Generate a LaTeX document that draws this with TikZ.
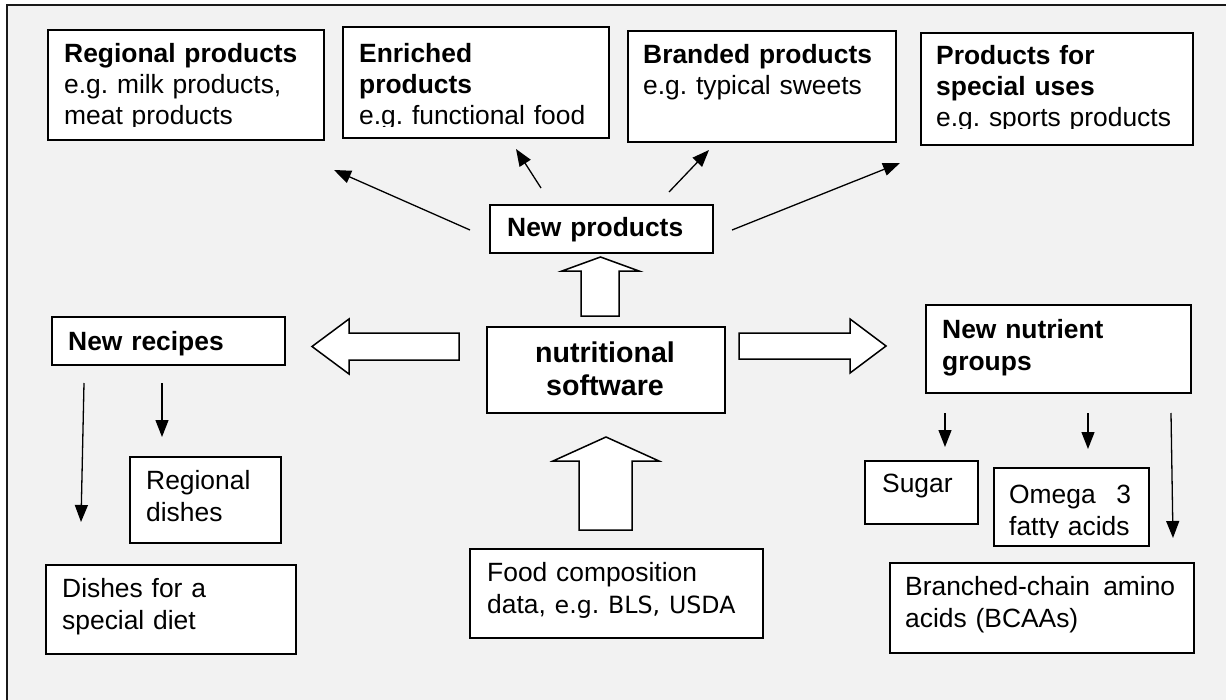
\documentclass[tikz,border=0pt]{standalone}
\usepackage{fontspec}
\setmainfont{Liberation Sans}
\newfontfamily\dvsans{DejaVu Sans}
\usetikzlibrary{arrows.meta}
\definecolor{bgcol}{HTML}{F2F2F2}
\frenchspacing
\begin{document}
\frenchspacing
\begin{tikzpicture}[x=1bp,y=-1bp,
  box/.style={draw=black, fill=white, line width=1.6bp, inner sep=0pt, anchor=north west},
  txt/.style={inner sep=0pt, anchor=base west, align=left, text width=#1,
              font=\frenchspacing\fontsize{26.4bp}{31bp}\selectfont},
  txtb/.style={inner sep=0pt, anchor=base west, align=left, text width=#1,
              font=\frenchspacing\fontsize{26.4bp}{32.5bp}\selectfont},
  ctxt/.style={inner sep=0pt, anchor=base, align=center, text width=#1,
              font=\frenchspacing\fontsize{28.6bp}{33.5bp}\selectfont},
  conn/.style={line width=1.3bp, -{Triangle[length=17bp,width=13bp]}},
  harrow/.style={draw=black, fill=white, line width=1.5bp, line join=miter}
]
\useasboundingbox (0,0) rectangle (1226,700);
% background and frame
\fill[white] (0,0) rectangle (1226,700);
\fill[bgcol] (7,5) rectangle (1226,700);
\draw[line width=2bp, color=black!90] (7,700) -- (7,5) -- (1226,5);

% boxes
\node[box, minimum width=276bp, minimum height=110bp] (reg) at (47,29) {};
\node[box, minimum width=266bp, minimum height=111bp] (enr) at (342,26) {};
\node[box, minimum width=268bp, minimum height=111bp] (brd) at (627,30) {};
\node[box, minimum width=272bp, minimum height=112bp] (spc) at (920,32) {};
\node[box, minimum width=223bp, minimum height=48bp] (np) at (489,204) {};
\node[box, minimum width=238bp, minimum height=86bp] (sw) at (486,326) {};
\node[box, minimum width=233bp, minimum height=48bp] (nr) at (51,316) {};
\node[box, minimum width=265bp, minimum height=88bp] (nng) at (925,304) {};
\node[box, minimum width=113bp, minimum height=63bp] (sug) at (864,460) {};
\node[box, minimum width=155bp, minimum height=78bp] (om) at (993,467) {};
\node[box, minimum width=304bp, minimum height=90bp] (bca) at (889,562) {};
\node[box, minimum width=151bp, minimum height=86bp] (rd) at (129,456) {};
\node[box, minimum width=250bp, minimum height=89bp] (dsd) at (45,564) {};
\node[box, minimum width=293bp, minimum height=89bp] (fcd) at (469,548) {};

% texts
\begin{scope}
\clip (47,29) rectangle (323,127);
\node[txt=255bp] (regt) at (64,63) {{\bfseries Regional products}\\e.g. milk products,\\meat products};
\end{scope}
\begin{scope}
\clip (342,26) rectangle (608,127);
\node[txt=245bp] (enrt) at (359,63) {{\bfseries Enriched}\\{\bfseries products}\\e.g. functional food};
\end{scope}
\node[txt=248bp] (brdt) at (643,64) {{\bfseries Branded products}\\e.g. typical sweets};
\begin{scope}
\clip (920,32) rectangle (1192,129);
\node[txt=252bp] (spct) at (936,65) {{\bfseries Products for}\\{\bfseries special uses}\\e.g. sports products};
\end{scope}
\node[txt=200bp] (npt) at (507,237) {\bfseries New products};
\node[ctxt=230bp] (swt) at (605,362) {{\bfseries nutritional}\\{\bfseries software}};
\node[txt=210bp] (nrt) at (68,350) {\bfseries New recipes};
\node[txtb=240bp] (nngt) at (942,338) {{\bfseries New nutrient}\\{\bfseries groups}};
\node[txt=90bp] (sugt) at (882,492) {Sugar};
\begin{scope}
\clip (993,467) rectangle (1148,537);
\node[txtb=122bp] (omt) at (1009,503) {Omega\hfill 3\\fatty acids};
\end{scope}
\node[txtb=270bp] (bcat) at (905,595) {Branched-chain\hfill amino\\acids (BCAAs)};
\node[txtb=130bp] (rdt) at (146,489) {Regional\\dishes};
\node[txtb=225bp] (dsdt) at (62,597) {Dishes for a\\special diet};
\node[txtb=270bp] (fcdt) at (487,581) {Food composition\\data, {\dvsans\fontsize{23.7bp}{32.5bp}\selectfont e.g. BLS, USDA}};

% hollow block arrows
\draw[harrow] (459,333) -- (349,333) -- (349,319) -- (312,346.5) -- (349,374) -- (349,360) -- (459,360) -- cycle;
\draw[harrow] (739,333) -- (850,333) -- (850,319) -- (886,346) -- (850,373) -- (850,359) -- (739,359) -- cycle;
\draw[harrow] (581,316) -- (581,271) -- (562,271) -- (600.5,257) -- (639,271) -- (619,271) -- (619,316) -- cycle;
\draw[harrow] (579,530) -- (579,461) -- (553,461) -- (606,437) -- (659,461) -- (632,461) -- (632,530) -- cycle;

% thin arrows
\coordinate (p1s) at (470,230); \coordinate (p1e) at (334,170);
\coordinate (p2s) at (541,188); \coordinate (p2e) at (516,149);
\coordinate (p3s) at (669,192); \coordinate (p3e) at (709,150);
\coordinate (p4s) at (732,230); \coordinate (p4e) at (900,163);
\coordinate (r1s) at (84,383);  \coordinate (r1e) at (81,522);
\coordinate (r2s) at (162,383); \coordinate (r2e) at (162,437);
\coordinate (n1s) at (945,413); \coordinate (n1e) at (945,447);
\coordinate (n2s) at (1088,413); \coordinate (n2e) at (1088,449);
\coordinate (n3s) at (1171,413); \coordinate (n3e) at (1173,538);
\draw[conn] (p1s) -- (p1e);
\draw[conn] (p2s) -- (p2e);
\draw[conn] (p3s) -- (p3e);
\draw[conn] (p4s) -- (p4e);
\draw[conn] (r1s) -- (r1e);
\draw[conn] (r2s) -- (r2e);
\draw[conn] (n1s) -- (n1e);
\draw[conn] (n2s) -- (n2e);
\draw[conn] (n3s) -- (n3e);
\end{tikzpicture}
\end{document}
